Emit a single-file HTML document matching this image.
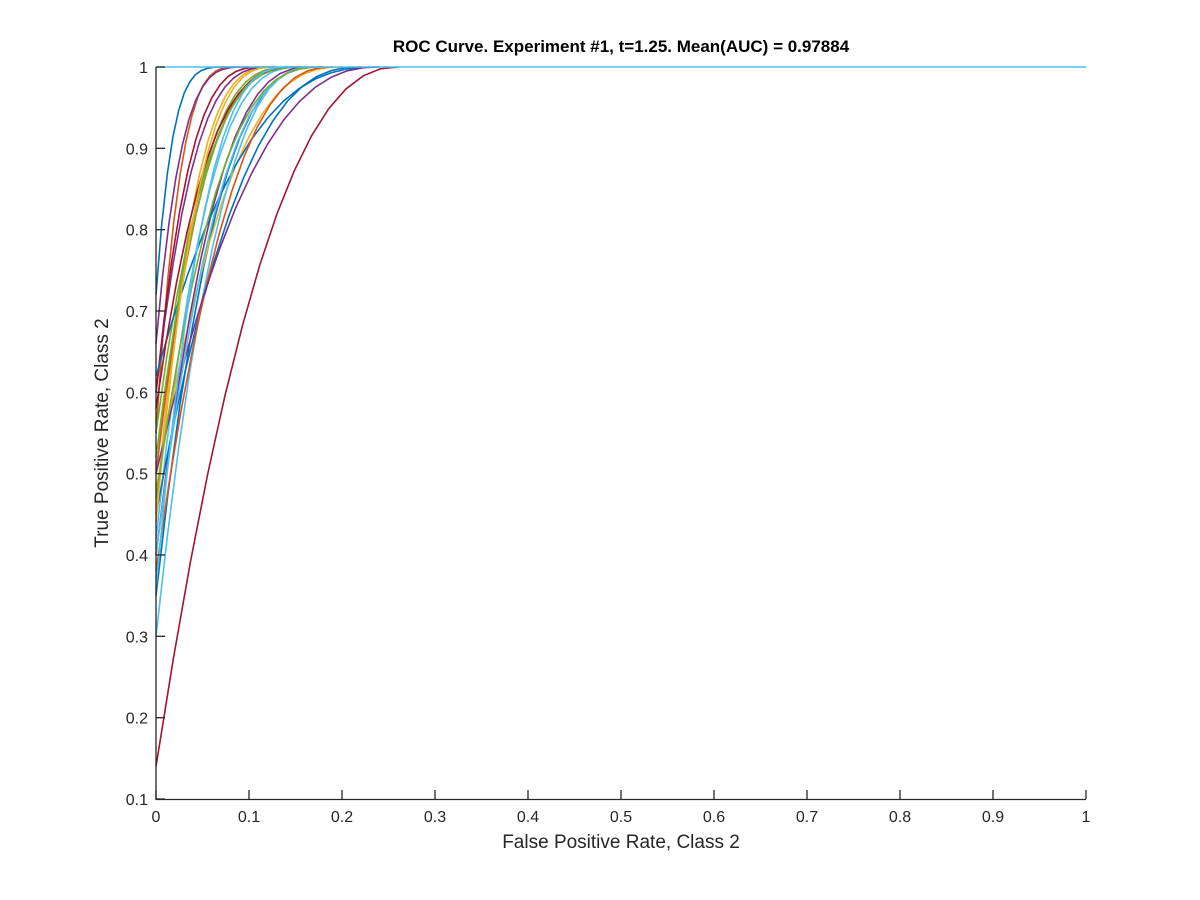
<!DOCTYPE html>
<html><head><meta charset="utf-8"><style>
body{margin:0;background:#fff;}
svg{display:block;font-family:"Liberation Sans",Arial,sans-serif;}
</style></head><body>
<svg id="s" width="1200" height="900" viewBox="0 0 1200 900" xmlns="http://www.w3.org/2000/svg">
<rect width="1200" height="900" fill="#fff"/>
<g id="curves" fill="none" stroke-width="1.6"></g>
<line x1="156" y1="67" x2="1086" y2="67" stroke="#4DBEEE" stroke-width="1.6"/>
<g stroke="#262626" stroke-width="1.3" fill="none">
<line x1="156" y1="67" x2="156" y2="800"/>
<line x1="155.5" y1="799.5" x2="1086" y2="799.5"/>
</g>
<g id="ticks" stroke="#262626" stroke-width="1.3"></g>
<g id="labels" fill="#262626" font-size="16"></g>
<text x="621" y="52" text-anchor="middle" font-size="17" font-weight="bold" fill="#000">ROC Curve. Experiment #1, t=1.25. Mean(AUC) = 0.97884</text>
<text x="621" y="848" text-anchor="middle" font-size="19" fill="#262626">False Positive Rate, Class 2</text>
<text transform="translate(108,433) rotate(-90)" text-anchor="middle" font-size="19" fill="#262626">True Positive Rate, Class 2</text>
</svg>
<script>
var X=f=>156+930*f, Y=t=>67+(1-t)*813.33;
var ns="http://www.w3.org/2000/svg";
var tk=document.getElementById('ticks'), lb=document.getElementById('labels');
function el(p,n,a,txt){var e=document.createElementNS(ns,n);for(var k in a)e.setAttribute(k,a[k]);if(txt!==undefined)e.textContent=txt;p.appendChild(e);}
for(var i=0;i<=10;i++){var x=X(i/10);el(tk,'line',{x1:x,y1:799,x2:x,y2:790});
el(lb,'text',{x:x,y:822,'text-anchor':'middle'},i==0?'0':i==10?'1':(i/10).toString());}
for(var i=1;i<=10;i++){var y=Y(i/10);el(tk,'line',{x1:156,y1:y,x2:165,y2:y});
el(lb,'text',{x:148,y:y+6,'text-anchor':'end'},i==10?'1':(i/10).toString());}
var C=['#0072BD','#D95319','#EDB120','#7E2F8E','#77AC30','#4DBEEE','#A2142F'];
// [y0, f1, p, colorIndex]
var P=[[0.72,0.085,4.9,0],[0.55,0.09,3.6,1],[0.45,0.13,3.2,2],[0.6,0.13,3.3,3],[0.5,0.15,3.2,4],[0.42,0.16,3,5],[0.6,0.12,3.4,6],
[0.35,0.18,2.9,0],[0.5,0.15,3.0,1],[0.48,0.2,2.6,2],[0.4,0.17,2.8,3],[0.55,0.16,3.1,4],[0.45,0.22,2.5,0],[0.62,0.24,2.6,0],
[0.3,0.17,2.6,5],[0.58,0.155,3.0,6],[0.52,0.15,2.9,4],[0.38,0.19,2.5,1],[0.5,0.24,2.4,3],[0.14,0.26,2.25,6],[0.44,0.13,3,2],
[0.4,0.175,2.7,5],[0.66,0.1,3.8,3],[0.47,0.18,2.8,4],[0.36,0.145,2.9,5]];
var g=document.getElementById('curves');
P.forEach(function(p,i){var pts=[];var n=14;for(var j=0;j<=n;j++){var f=p[1]*j/n;var t=1-(1-p[0])*Math.pow(1-f/p[1],p[2]);pts.push(X(f).toFixed(1)+','+Y(t).toFixed(1));}
el(g,'polyline',{points:pts.join(' '),stroke:C[p[3]]});});
</script>
</body></html>
